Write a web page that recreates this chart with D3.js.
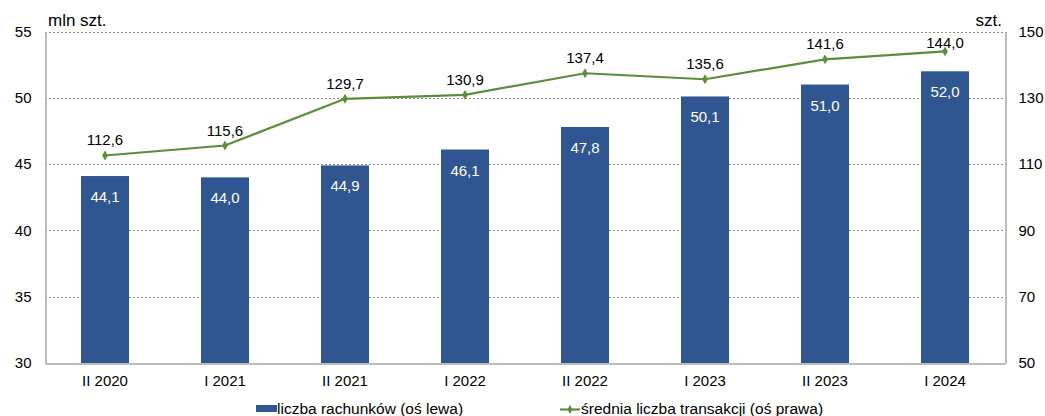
<!DOCTYPE html>
<html>
<head>
<meta charset="utf-8">
<script src="https://cdn.jsdelivr.net/npm/d3@7"></script>
<style>
  body { margin: 0; background: #fff; }
  svg { display: block; font-family: "Liberation Sans", Arial, sans-serif; }
</style>
</head>
<body>
<svg id="chart" width="1045" height="416"></svg>
<script>
// Half-year periods
const categories = ["II 2020", "I 2021", "II 2021", "I 2022", "II 2022", "I 2023", "II 2023", "I 2024"];
// Number of accounts, millions (left axis)
const accounts = [44.1, 44.0, 44.9, 46.1, 47.8, 50.1, 51.0, 52.0];
// Average number of transactions (right axis)
const transactions = [112.6, 115.6, 129.7, 130.9, 137.4, 135.6, 141.6, 144.0];
const leftTicks = [30, 35, 40, 45, 50, 55];
const rightTicks = [50, 70, 90, 110, 130, 150];

const barColor = "#2F5690";
const lineColor = "#5B8E3A";
const fmt = v => v.toFixed(1).replace(".", ",");
const FONT = "Liberation Sans, Arial, sans-serif";

const svg = d3.select("#chart");
const m = { left: 45, right: 1005, top: 31.5, bottom: 363 };

const x = d3.scaleBand().domain(categories).range([m.left, m.right]).paddingInner(0.6).paddingOuter(0.3);
const xc = d3.scaleBand().domain(categories).range([m.left, m.right]);
const yL = d3.scaleLinear().domain([30, 55]).range([m.bottom, m.top]);
const yR = d3.scaleLinear().domain([50, 150]).range([m.bottom, m.top]);

// Dotted horizontal gridlines
svg.append("g").selectAll("line").data(leftTicks.slice(1)).join("line")
  .attr("x1", m.left).attr("x2", m.right)
  .attr("y1", d => Math.round(yL(d)) + 0.5).attr("y2", d => Math.round(yL(d)) + 0.5)
  .attr("stroke", "#8c8c8c").attr("stroke-width", 1).attr("stroke-dasharray", "2,2");

// Bars
svg.append("g").selectAll("rect").data(accounts).join("rect")
  .attr("x", (d, i) => x(categories[i]))
  .attr("width", x.bandwidth())
  .attr("y", d => yL(d))
  .attr("height", d => yL(30) - yL(d))
  .attr("fill", barColor);

// Bar value labels
svg.append("g").selectAll("text").data(accounts).join("text")
  .attr("x", (d, i) => x(categories[i]) + x.bandwidth() / 2)
  .attr("y", d => yL(d) + 26)
  .attr("text-anchor", "middle")
  .attr("font-size", 15).attr("fill", "#fff")
  .text(fmt);

// Axes
const axisColor = "#a6a6a6";
function styleAxis(g) {
  g.select(".domain").attr("stroke", axisColor).attr("stroke-width", 1.5);
  g.selectAll("text").attr("font-size", 15).attr("fill", "#000").attr("font-family", FONT);
}
svg.append("g").attr("transform", `translate(${m.left + 0.5},0)`)
  .call(d3.axisLeft(yL).tickValues(leftTicks).tickSize(0).tickPadding(14)).call(styleAxis);
svg.append("g").attr("transform", `translate(${m.right + 0.5},0)`)
  .call(d3.axisRight(yR).tickValues(rightTicks).tickSize(0).tickPadding(13)).call(styleAxis);
svg.append("g").attr("transform", `translate(0,${m.bottom + 0.5})`)
  .call(d3.axisBottom(xc).tickSize(0).tickPadding(12)).call(styleAxis);

// Line series
const cx = i => xc(categories[i]) + xc.bandwidth() / 2;
const line = d3.line().x((d, i) => cx(i)).y(d => yR(d));
svg.append("path").datum(transactions)
  .attr("d", line).attr("fill", "none")
  .attr("stroke", lineColor).attr("stroke-width", 2.2);
svg.append("g").selectAll("path").data(transactions).join("path")
  .attr("transform", (d, i) => `translate(${cx(i)},${yR(d)})`)
  .attr("d", d3.symbol(d3.symbolDiamond, 28))
  .attr("fill", lineColor);

// Line value labels, kept inside the plot area
svg.append("g").selectAll("text").data(transactions).join("text")
  .attr("x", (d, i) => cx(i))
  .attr("y", d => Math.max(yR(d) - 10, m.top + 16))
  .attr("text-anchor", "middle")
  .attr("font-size", 15).attr("fill", "#000")
  .text(fmt);

// Axis unit titles
svg.append("text").attr("x", 48).attr("y", 26).attr("font-size", 17).text("mln szt.");
svg.append("text").attr("x", 1002).attr("y", 26).attr("text-anchor", "end").attr("font-size", 17).text("szt.");

// Legend
const leg = svg.append("g").attr("font-size", 15.5);
leg.append("rect").attr("x", 256).attr("y", 405).attr("width", 21).attr("height", 7).attr("fill", barColor);
leg.append("text").attr("x", 277).attr("y", 414).text("liczba rachunków (oś lewa)");
leg.append("line").attr("x1", 560).attr("x2", 580).attr("y1", 409.5).attr("y2", 409.5)
  .attr("stroke", lineColor).attr("stroke-width", 2.2);
leg.append("path").attr("transform", "translate(570,409.5)")
  .attr("d", d3.symbol(d3.symbolDiamond, 24)).attr("fill", lineColor);
leg.append("text").attr("x", 581).attr("y", 414).text("średnia liczba transakcji (oś prawa)");
</script>
</body>
</html>
